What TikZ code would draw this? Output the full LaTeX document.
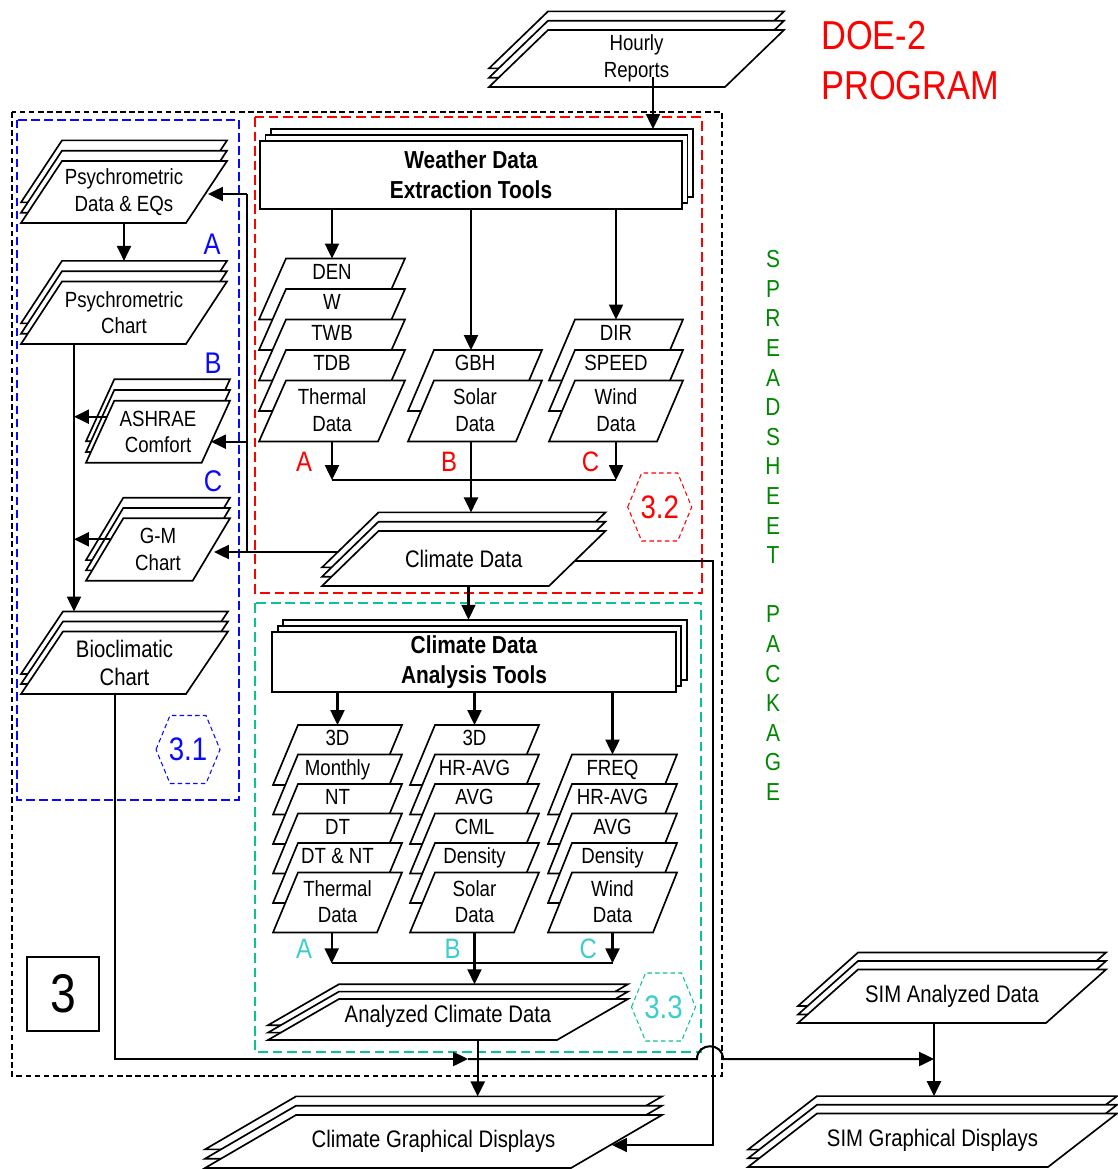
\documentclass[tikz,border=0pt]{standalone}
\usepackage{fontspec}
\setmainfont{Liberation Sans}[FakeStretch=0.85]
\usetikzlibrary{arrows.meta}
\definecolor{cred}{RGB}{255,0,0}
\definecolor{cblue}{RGB}{10,10,250}
\definecolor{cteal}{RGB}{10,195,145}
\definecolor{ccyan}{RGB}{60,205,205}
\definecolor{cgreen}{RGB}{0,135,0}
\tikzset{
  shp/.style={draw=black,line width=0.95pt,fill=white,line join=miter},
  txt/.style={inner sep=0pt,align=center,font=\fontsize{12.5}{15}\selectfont},
  bigt/.style={font=\fontsize{13.6}{16}\selectfont},
  hd/.style={font=\bfseries\fontsize{14}{17}\selectfont},
  arr/.style={line width=1.15pt,-{Triangle[length=8.5pt,width=8pt]}},
  ln/.style={line width=1.15pt},
  lnthin/.style={line width=0.8pt},
  outerd/.style={draw=black,line width=0.75pt,dash pattern=on 3.2pt off 2pt},
  blued/.style={draw=cblue,line width=1.4pt,dash pattern=on 4.8pt off 2.6pt},
  redd/.style={draw=cred,line width=1.4pt,dash pattern=on 5.5pt off 2.8pt},
  teald/.style={draw=cteal,line width=1.4pt,dash pattern=on 5.5pt off 2.8pt},
  hexd/.style={line width=0.6pt,dash pattern=on 2.6pt off 1.8pt},
  hexl/.style={inner sep=0pt,font=\fontsize{18.5}{20}\selectfont},
  abc/.style={inner sep=0pt,font=\fontsize{16}{18}\selectfont},
  abcb/.style={inner sep=0pt,font=\fontsize{17}{19}\selectfont},
}
% parallelogram: x0 (bottom-left), y bottom, bottom width, height, slant
\newcommand\pgram[5]{\draw[shp] (#1,#2) -- ++(#3,0) -- ++(#5,-#4) -- ++(-#3,0) -- cycle;}
% stacked parallelograms: name, x0, yb, w, h, s, gap, style, text
\newcommand\pstack[9]{%
  \pgram{#2}{#3-2*#7}{#4}{#5}{#6}%
  \pgram{#2}{#3-#7}{#4}{#5}{#6}%
  \pgram{#2}{#3}{#4}{#5}{#6}%
  \node[txt,#8] (#1) at ({#2+#4/2+#6/2},{#3-#5/2}) {#9};%
  \coordinate (#1-top) at ({#2+#4/2+#6/2},{#3-#5-2*#7});%
  \coordinate (#1-bot) at ({#2+#4/2+#6/2},{#3});}
% column box with label in top strip: name, x0, top, w, h, s, text
\newcommand\cbox[7]{%
  \pgram{#2}{#3+#5}{#4}{#5}{#6}%
  \node[txt,anchor=base] (#1) at ({#2+#4/2+#6/2},{#3+20.5}) {#7};%
  \coordinate (#1-top) at ({#2+#4/2+#6/2},{#3});}
% last column box, centred text
\newcommand\cboxc[7]{%
  \pgram{#2}{#3+#5}{#4}{#5}{#6}%
  \node[txt] (#1) at ({#2+#4/2+#6/2},{#3+#5/2-1}) {#7};%
  \coordinate (#1-bot) at ({#2+#4/2+#6/2},{#3+#5});}
% dashed hexagon: name, cx, cy, line colour, text colour, text
\newcommand\hexa[6]{%
  \draw[hexd,draw=#4] (#2,#3) ++(-32,0) -- ++(14,-34) -- ++(36,0) -- ++(14,34) -- ++(-14,34) -- ++(-36,0) -- cycle;%
  \node[hexl,text=#5] (#1) at (#2,#3) {#6};}

\begin{document}
\begin{tikzpicture}[x=0.02cm,y=-0.02cm]
\useasboundingbox (0,0) rectangle (1117,1169);

% ---------- frames ----------
\draw[outerd] (12,112) rectangle (722,1076);
\draw[blued] (17,120) rectangle (239,800);
\draw[redd] (255,117) rectangle (702,593);
\draw[teald] (255,603) rectangle (701,1052);

\hexa{h31}{188}{749.5}{cblue}{cblue}{3.1}
\hexa{h32}{659.7}{507}{cred}{cred}{3.2}
\hexa{h33}{663.5}{1007}{cteal}{ccyan}{3.3}

% ---------- helper coordinates ----------
\coordinate (busE) at (0,480);
\coordinate (busF) at (0,963.3);
\coordinate (cdOut) at (468.5,586);
\coordinate (cdatTop) at (0,619.7);
\coordinate (aOut) at (331.7,932.5);
\coordinate (acdOut) at (477.7,1040);
\coordinate (simOut) at (934,1023);
\coordinate (bioOut) at (115,694);
\coordinate (bioMid) at (468,1059);
\coordinate (hopL) at (697,1059);
\coordinate (hopR) at (723,1059);
\coordinate (cdR) at (575,561);
\coordinate (rTop) at (713,561);
\coordinate (rBot) at (713,1145);
\coordinate (cgdIn) at (612,1145);
\coordinate (lbT) at (247,194);
\coordinate (lbB) at (247,552);
\coordinate (psdIn) at (208,194);
\coordinate (ashIn) at (211,441.7);
\coordinate (gmIn) at (214,552);
\coordinate (cdL) at (338,552);
\coordinate (vx) at (74,0);
\coordinate (ashOut) at (107,416.7);
\coordinate (gmOut) at (110,539.3);
\coordinate (hrOut) at (653,77);
\coordinate (wdetTop) at (0,129);

% ---------- boxes: top ----------
\pstack{hr}{489}{87}{236}{57}{59}{9.3}{}{Hourly\\Reports}

\draw[shp] (271,129) rectangle (693,197);
\draw[shp] (265.5,135) rectangle (687.5,203);
\node[shp,txt,hd,minimum width=8.44cm,minimum height=1.36cm] (wdet) at (471,175) {Weather Data\\Extraction Tools};

\draw[shp] (283.3,619.7) rectangle (686.7,679.7);
\draw[shp] (277.8,625.7) rectangle (681.2,685.7);
\node[shp,txt,hd,minimum width=8.07cm,minimum height=1.2cm] (cdat) at (474,661.7) {Climate Data\\Analysis Tools};

% ---------- extraction columns ----------
\cbox{den}{259}{258.5}{119}{61}{27}{DEN}
\cbox{wv}{259}{289}{119}{61}{27}{W}
\cbox{twb}{259}{319.5}{119}{61}{27}{TWB}
\cbox{tdb}{259}{350}{119}{61}{27}{TDB}
\cboxc{thd}{259}{380.5}{119}{61}{27}{Thermal\\Data}

\cbox{gbh}{408}{350}{108}{61}{26}{GBH}
\cboxc{sod}{408}{380.5}{108}{61}{26}{Solar\\Data}

\cbox{dir}{549}{319.5}{108}{61}{26}{DIR}
\cbox{spd}{549}{350}{108}{61}{26}{SPEED}
\cboxc{wid}{549}{380.5}{108}{61}{26}{Wind\\Data}

% ---------- analysis columns ----------
\cbox{a3d}{273}{725}{104}{60}{25}{3D}
\cbox{amon}{273}{754.5}{104}{60}{25}{Monthly}
\cbox{ant}{273}{784}{104}{60}{25}{NT}
\cbox{adt}{273}{813.5}{104}{60}{25}{DT}
\cbox{adtnt}{273}{843}{104}{60}{25}{DT \& NT}
\cboxc{athd}{273}{872.5}{104}{60}{25}{Thermal\\Data}

\cbox{b3d}{410}{725}{104}{60}{25}{3D}
\cbox{bhr}{410}{754.5}{104}{60}{25}{HR-AVG}
\cbox{bavg}{410}{784}{104}{60}{25}{AVG}
\cbox{bcml}{410}{813.5}{104}{60}{25}{CML}
\cbox{bden}{410}{843}{104}{60}{25}{Density}
\cboxc{bsod}{410}{872.5}{104}{60}{25}{Solar\\Data}

\cbox{freq}{548}{754.5}{105}{60}{24}{FREQ}
\cbox{chr}{548}{784}{105}{60}{24}{HR-AVG}
\cbox{cavg}{548}{813.5}{105}{60}{24}{AVG}
\cbox{cden}{548}{843}{105}{60}{24}{Density}
\cboxc{cwid}{548}{872.5}{105}{60}{24}{Wind\\Data}

% ---------- connectors (under the flat stacks) ----------
\draw[arr] (wdet.south -| den-top) -- (den-top);
\draw[arr] (wdet.south) -- (wdet.south |- gbh-top);
\draw[arr] (wdet.south -| dir-top) -- (dir-top);
\draw[arr] (thd-bot) -- (thd-bot |- busE);
\draw[arr] (wid-bot) -- (wid-bot |- busE);
\draw[ln] (thd-bot |- busE) -- (wid-bot |- busE);

\draw[arr] (cdat.south -| a3d-top) -- (a3d-top);
\draw[arr] (cdat.south -| b3d-top) -- (b3d-top);
\draw[arr] (cdat.south -| freq-top) -- (freq-top);
\draw[arr] (aOut) -- (aOut |- busF);
\draw[arr] (cwid-bot) -- (cwid-bot |- busF);
\draw[ln] (aOut |- busF) -- (cwid-bot |- busF);

% ---------- flat stacks ----------
\pstack{cd}{322}{586}{227}{55}{56.5}{9.3}{bigt}{Climate Data}
\pstack{acd}{268}{1040}{289}{41}{71}{7.4}{bigt,yshift=0.06cm}{Analyzed Climate Data}
\pstack{cgd}{205}{1168}{366}{53}{91}{9.3}{bigt}{Climate Graphical Displays}
\pstack{sima}{798}{1023}{248}{53.5}{60}{8.5}{bigt}{SIM Analyzed Data}
\pstack{simg}{748}{1167}{300}{53.5}{69}{8.7}{bigt}{SIM Graphical Displays}

\pstack{psd}{21}{223}{165}{62}{41}{10.3}{}{Psychrometric\\Data \& EQs}
\pstack{psc}{21}{344}{165}{62.5}{41}{10.3}{}{Psychrometric\\Chart}
\pstack{ash}{86}{462.7}{115.7}{62}{28.3}{10.7}{}{ASHRAE\\Comfort}
\pstack{gm}{86}{580.7}{106.7}{62.4}{37.3}{10.3}{}{G-M\\Chart}
\pstack{bio}{21}{694}{165}{62.5}{42}{10}{bigt}{Bioclimatic\\Chart}

% ---------- connectors ----------
\draw[arr] (hrOut) -- (hrOut |- wdetTop);
\draw[arr] (wdet.south |- sod-bot) -- (wdet.south |- cd-top);
\draw[arr] (cdOut) -- (cdOut |- cdatTop);
\draw[arr] (bsod-bot) -- (bsod-bot |- acd-top);
\draw[arr] (acdOut) -- (acdOut |- cgd-top);
\draw[arr] (simOut) -- (simOut |- simg-top);

\draw[arr] (psd-bot) -- (psd-bot |- psc-top);
\draw[arr] (vx |- psc-bot) -- (vx |- bio-top);
\draw[arr] (ashOut) -- (vx |- ashOut);
\draw[arr] (gmOut) -- (vx |- gmOut);
\draw[ln] (lbT) -- (lbB);
\draw[arr] (lbT) -- (psdIn);
\draw[arr] (lbT |- ashIn) -- (ashIn);
\draw[arr] (cdL) -- (gmIn);

\draw[arr] (bioOut) |- (bioMid);
\draw[arr] (bioMid) -- (hopL) .. controls (697,1042) and (723,1042) .. (hopR) -- (simOut |- bioMid);
\draw[arr,lnthin] (cdR) -- (rTop) -- (rBot) -- (cgdIn);

% ---------- labels ----------
\node[abc,text=cred] (rA) at (304,462) {A};
\node[abc,text=cred] (rB) at (449,462) {B};
\node[abc,text=cred] (rC) at (590.5,462) {C};
\node[abc,text=ccyan] (cA) at (304,949) {A};
\node[abc,text=ccyan] (cB) at (452.5,949) {B};
\node[abc,text=ccyan] (cC) at (588.3,949) {C};
\node[abcb,text=cblue] (bA) at (212,244) {A};
\node[abcb,text=cblue] (bB) at (213,363) {B};
\node[abcb,text=cblue] (bC) at (213,481) {C};

\node[draw,line width=1pt,minimum width=1.44cm,minimum height=1.48cm,inner sep=0pt,font=\fontsize{31}{31}\selectfont] (three) at (63,994) {3};

\node[anchor=base west,inner sep=0pt,text=cred,font=\fontsize{23}{28}\selectfont] (doe) at (821,50) {DOE-2};
\node[anchor=base west,inner sep=0pt,text=cred,font=\fontsize{23}{28}\selectfont] (prog) at (821,100) {PROGRAM};

\node[inner sep=0pt,align=center,text=cgreen,font=\fontsize{14}{16.85}\selectfont] (ssp) at (773,525.5)
  {S\\P\\R\\E\\A\\D\\S\\H\\E\\E\\T\\\mbox{}\\P\\A\\C\\K\\A\\G\\E};
\end{tikzpicture}
\end{document}
